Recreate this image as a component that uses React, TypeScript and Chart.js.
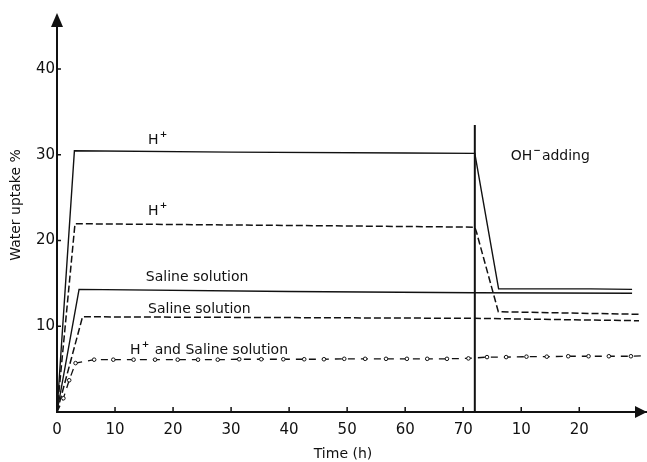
import { useEffect, useRef } from "react";
import { Chart, registerables } from "chart.js";

Chart.register(...registerables);

// Time axis: 0–72 h in acid / saline, then hours after OH- addition (labelled 10, 20)
const xTickValues = [0, 10, 20, 30, 40, 50, 60, 70, 80, 90];
const xTickLabels = ["0", "10", "20", "30", "40", "50", "60", "70", "10", "20"];
const yTickValues = [10, 20, 30, 40];

// H+ (solid)
const hSolidX = [0, 3.0, 30, 60, 72, 76.1, 92, 99.1];
const hSolidY = [0, 30.45, 30.3, 30.2, 30.15, 14.35, 14.35, 14.3];

// H+ (dashed)
const hDashX = [0, 3.1, 40, 72, 72.3, 76.05, 100.3];
const hDashY = [0, 21.95, 21.75, 21.55, 20.95, 11.69, 11.39];

// Saline solution (solid)
const salSolidX = [0, 3.8, 40, 72, 99.1];
const salSolidY = [0, 14.3, 14.05, 13.9, 13.85];

// Saline solution (dashed)
const salDashX = [0, 4.4, 72, 100.3];
const salDashY = [0, 11.1, 10.92, 10.64];

// H+ and saline solution (dash line with circles)
const mixX = [0, 1.1, 2.1, 3.2, 6.4, 9.7, 13.2, 16.9, 20.8, 24.3, 27.7, 31.4, 35.2, 39.0, 42.6, 46.0,
  49.5, 53.1, 56.7, 60.3, 63.8, 67.2, 70.9, 74.1, 77.4, 80.9, 84.4, 88.1, 91.6, 95.1, 98.9, 100.7];
const mixY = [0, 1.6, 3.7, 5.7, 6.1, 6.1, 6.1, 6.1, 6.1, 6.1, 6.1, 6.15, 6.15, 6.15, 6.15, 6.15,
  6.2, 6.2, 6.2, 6.2, 6.2, 6.2, 6.25, 6.4, 6.4, 6.45, 6.45, 6.5, 6.5, 6.5, 6.5, 6.55];

// OH- addition marker
const ohAddTime = 72;
const ohMarkTop = 33.45;

type Note = { text: string; sup?: string; rest?: string; x: number; y: number };
const curveNotes: Note[] = [
  { text: "H", sup: "+", x: 15.7, y: 31.2 },
  { text: "H", sup: "+", x: 15.7, y: 23.0 },
  { text: "Saline solution", x: 15.3, y: 15.3 },
  { text: "Saline solution", x: 15.7, y: 11.5 },
  { text: "H", sup: "+", rest: " and Saline solution", x: 12.6, y: 6.8 },
  { text: "OH", sup: "\u2212", rest: "adding", x: 78.2, y: 29.4 },
];

const xTitle = "Time (h)";
const yTitle = "Water uptake %";

const ink = "#111";
const FONT = "'DejaVu Sans', sans-serif";

const pts = (xs: number[], ys: number[]) => xs.map((x, i) => ({ x, y: ys[i] }));

const decorPlugin = {
  id: "decor",
  afterDraw(chart: any) {
    const { ctx, chartArea: a, scales } = chart;
    const sx = scales.x;
    const sy = scales.y;
    ctx.save();
    ctx.strokeStyle = ink;
    ctx.fillStyle = ink;

    // inward tick marks
    ctx.lineWidth = 1.5;
    ctx.beginPath();
    xTickValues.slice(1).forEach((v) => {
      const px = sx.getPixelForValue(v);
      ctx.moveTo(px, a.bottom);
      ctx.lineTo(px, a.bottom - 5);
    });
    yTickValues.forEach((v) => {
      const py = sy.getPixelForValue(v);
      ctx.moveTo(a.left, py);
      ctx.lineTo(a.left + 4, py);
    });
    ctx.stroke();

    // arrow heads
    ctx.beginPath();
    ctx.moveTo(a.left, a.top - 13);
    ctx.lineTo(a.left - 6, a.top + 1);
    ctx.lineTo(a.left + 6, a.top + 1);
    ctx.closePath();
    ctx.fill();
    ctx.beginPath();
    ctx.moveTo(a.right + 1, a.bottom);
    ctx.lineTo(a.right - 11, a.bottom - 6);
    ctx.lineTo(a.right - 11, a.bottom + 6);
    ctx.closePath();
    ctx.fill();

    // curve labels
    ctx.textBaseline = "alphabetic";
    ctx.textAlign = "left";
    curveNotes.forEach((n) => {
      let px = sx.getPixelForValue(n.x);
      const py = sy.getPixelForValue(n.y);
      ctx.font = `14px ${FONT}`;
      ctx.fillText(n.text, px, py);
      px += ctx.measureText(n.text).width;
      if (n.sup) {
        ctx.font = `bold 9px ${FONT}`;
        ctx.fillText(n.sup, px + 1, py - 7);
        px += ctx.measureText(n.sup).width + 2;
      }
      if (n.rest) {
        ctx.font = `14px ${FONT}`;
        ctx.fillText(n.rest, px, py);
      }
    });

    // axis titles
    ctx.font = `14px ${FONT}`;
    ctx.textAlign = "center";
    ctx.textBaseline = "middle";
    ctx.fillText(xTitle, 343, 454);
    ctx.save();
    ctx.translate(16, 205);
    ctx.rotate(-Math.PI / 2);
    ctx.fillText(yTitle, 0, 0);
    ctx.restore();

    ctx.restore();
  },
};

export default function App() {
  const ref = useRef<HTMLCanvasElement | null>(null);

  useEffect(() => {
    if (!ref.current) return;
    const base = { fill: false, tension: 0, pointRadius: 0, borderColor: ink, clip: false as const };
    const chart = new Chart(ref.current, {
      type: "line",
      data: {
        datasets: [
          { ...base, label: "H+ solid", data: pts(hSolidX, hSolidY), borderWidth: 1.4 },
          { ...base, label: "H+ dashed", data: pts(hDashX, hDashY), borderWidth: 1.5, borderDash: [7, 3] },
          { ...base, label: "Saline solid", data: pts(salSolidX, salSolidY), borderWidth: 1.4 },
          { ...base, label: "Saline dashed", data: pts(salDashX, salDashY), borderWidth: 1.5, borderDash: [7, 3] },
          {
            ...base,
            label: "H+ and saline",
            data: pts(mixX, mixY),
            borderWidth: 1.3,
            borderDash: [7, 6],
            pointRadius: mixX.map((_, i) => (i === 0 || i === mixX.length - 1 ? 0 : 1.8)),
            pointBorderWidth: 1,
            pointBorderColor: ink,
            pointBackgroundColor: "#fff",
          },
          {
            ...base,
            label: "OH- added",
            data: [{ x: ohAddTime, y: 0 }, { x: ohAddTime, y: ohMarkTop }],
            borderWidth: 2,
          },
        ],
      },
      options: {
        responsive: false,
        animation: false,
        layout: { padding: { top: 26, right: 1, left: 0, bottom: 0 } },
        plugins: { legend: { display: false }, tooltip: { enabled: false }, title: { display: false } },
        scales: {
          x: {
            type: "linear",
            min: 0,
            max: 101.5,
            afterBuildTicks: (s: any) => {
              s.ticks = xTickValues.map((v) => ({ value: v }));
            },
            afterFit: (s: any) => {
              s.height = 50;
            },
            ticks: {
              color: ink,
              font: { family: FONT, size: 15 },
              padding: 9,
              maxRotation: 0,
              autoSkip: false,
              callback: (v: any) => {
                const i = xTickValues.indexOf(Number(v));
                return i >= 0 ? xTickLabels[i] : "";
              },
            },
            grid: { display: true, drawOnChartArea: false, drawTicks: false },
            border: { display: true, color: ink, width: 2 },
          },
          y: {
            type: "linear",
            min: 0,
            max: 45,
            afterBuildTicks: (s: any) => {
              s.ticks = yTickValues.map((v) => ({ value: v }));
            },
            afterFit: (s: any) => {
              s.width = 57;
            },
            ticks: {
              color: ink,
              font: { family: FONT, size: 15 },
              padding: 2,
              autoSkip: false,
            },
            grid: { display: true, drawOnChartArea: false, drawTicks: false },
            border: { display: true, color: ink, width: 2 },
          },
        },
      },
      plugins: [decorPlugin],
    });
    return () => chart.destroy();
  }, []);

  return (
    <div style={{ position: "fixed", left: 0, top: 0, width: 647, height: 462, background: "#fff" }}>
      <canvas ref={ref} width={647} height={462} style={{ display: "block", width: 647, height: 462 }} />
    </div>
  );
}
